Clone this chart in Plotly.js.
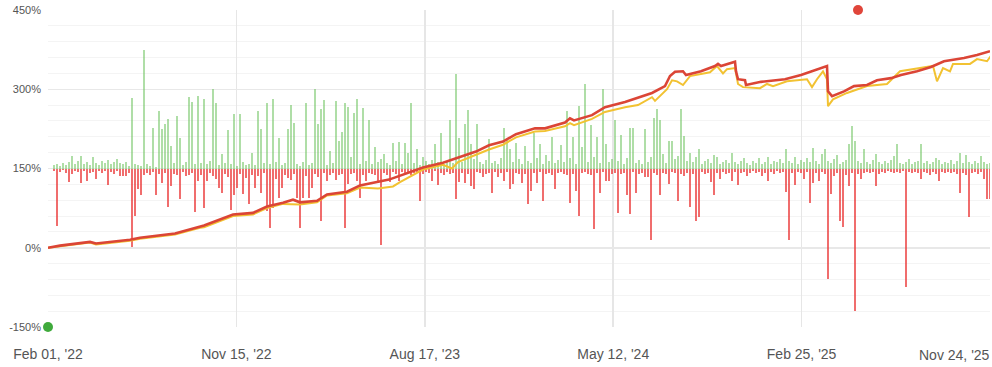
<!DOCTYPE html>
<html>
<head>
<meta charset="utf-8">
<script src="https://cdn.plot.ly/plotly-3.0.1.min.js"></script>
<style>
html,body{margin:0;padding:0;background:#fff;}
#chart{width:992px;height:367px;}
</style>
</head>
<body>
<div id="chart"></div>
<script>
// x axis: trading-day index, labels at equal index spacing
const tickDays = [0, 188.4, 376.8, 565.2, 753.6, 942];
const tickLabels = ["Feb 01, '22", "Nov 15, '22", "Aug 17, '23", "May 12, '24", "Feb 25, '25", "Nov 24, '25"];
const yTicks = [-150, 0, 150, 300, 450];
const yTickLabels = ["-150%", "0%", "150%", "300%", "450%"];

// bar baseline (%), and bar slot spacing (days)
const barBase = 150;
const barStep = 3;

// daily gains (%) per slot
const gains = [
  0,0,6,8,5,10,7,12,23,9,
  14,23,8,12,6,21,10,7,15,11,
  16,9,13,18,10,8,12,5,133,9,
  6,4,224,8,5,76,3,108,74,84,
  93,42,10,99,57,6,12,135,125,8,
  137,11,131,9,14,150,124,6,27,10,
  72,8,103,5,103,12,7,9,30,6,
  108,74,10,124,8,131,13,57,6,11,
  74,120,86,9,5,12,124,7,10,150,
  84,112,129,6,34,11,127,53,70,124,
  116,21,105,131,9,114,14,91,8,40,
  12,18,28,10,7,48,15,51,9,48,
  30,124,11,36,6,21,14,8,17,46,
  12,67,9,15,91,10,179,57,13,84,
  110,46,18,84,12,9,16,55,11,14,
  8,20,76,55,36,13,49,18,9,42,
  15,11,67,20,46,8,25,14,59,10,
  17,44,12,108,19,59,9,118,40,160,
  13,82,21,59,10,150,46,12,18,91,
  14,63,9,20,76,76,11,16,8,74,
  13,22,95,112,91,27,10,53,53,18,
  24,112,61,15,30,12,22,36,9,14,
  18,11,25,21,8,13,16,10,30,12,
  9,15,20,11,7,14,10,19,8,13,
  21,9,15,12,18,10,36,14,11,21,
  8,16,13,20,12,38,15,9,28,36,
  14,10,18,25,9,12,16,46,80,53,
  15,11,36,13,9,17,27,12,8,14,
  10,16,23,46,11,8,13,18,9,12,
  15,46,10,14,8,12,19,16,9,13,
  11,17,8,14,30,10,25,12,9,15,
  11,23,13,8,10
];

// daily losses (%) per slot, as magnitudes
const losses = [
  0,0,4,108,6,3,8,25,10,5,
  7,28,4,23,9,6,19,5,8,4,
  32,6,10,5,15,15,15,8,148,89,
  38,51,12,9,13,6,51,10,28,8,
  72,34,10,13,57,7,15,13,9,82,
  23,12,74,23,9,14,19,36,46,11,
  17,78,51,36,10,49,18,68,12,36,
  15,46,9,80,112,74,20,55,36,13,
  18,21,10,55,112,55,14,55,36,11,
  16,99,9,23,12,8,21,13,10,112,
  30,11,9,23,55,13,23,8,10,12,
  28,144,9,13,25,7,11,23,6,10,
  8,12,9,7,61,10,6,9,23,5,
  32,8,13,6,10,9,57,25,8,28,
  11,34,38,6,9,17,10,8,46,7,
  17,9,23,6,38,30,8,11,27,10,
  67,42,9,27,6,61,10,8,12,38,
  9,7,11,13,65,10,42,89,8,6,
  10,12,114,9,46,7,23,23,10,8,
  84,11,9,51,86,7,46,10,8,17,
  17,135,9,12,51,8,10,30,7,9,
  61,11,15,8,72,10,99,91,7,10,
  9,25,51,8,19,6,10,9,23,7,
  32,8,6,15,9,5,8,6,15,9,
  23,6,10,5,8,7,44,135,9,32,
  6,8,19,7,65,28,9,23,6,10,
  209,48,15,8,99,110,12,34,9,270,
  10,19,8,6,9,7,34,10,6,8,
  5,7,9,6,8,5,224,7,9,6,
  8,19,6,9,13,7,10,23,6,8,
  7,9,6,10,46,8,12,91,9,7,
  10,6,19,57,57
];

// balance line (red)
const balanceDays = [0,12,42,48,82,92,127,152,156,185,205,219,235,245,252,269,279,299,312,341,375,395,408,428,441,455,468,487,497,517,522,526,544,557,577,604,617,622,627,635,638,653,667,670,673,687,688,690,697,698,713,737,753,777,779,780,784,796,806,819,829,843,853,869,883,896,916,929,942];
const balance = [0,4,11,8,15,19,27,40,42,63,66,78,85,91,86,89,101,106,118,129,152,161,169,182,194,201,215,226,226,237,245,241,251,266,276,293,306,325,333,334,327,334,344,348,344,352,334,319,317,308,314,319,327,342,344,296,287,296,306,308,317,321,327,334,342,353,359,365,372];

// equity line (yellow)
const equityDays = [0,12,42,48,82,92,127,152,156,185,205,219,235,252,269,279,299,312,330,345,352,375,395,404,410,428,441,455,468,487,497,517,522,526,544,557,577,590,604,607,617,619,624,629,635,642,662,669,675,679,687,690,695,712,719,725,739,759,764,769,775,779,780,785,799,819,839,852,885,889,895,902,905,922,929,939,944];
const equity = [0,3,10,6,13,17,25,38,39,60,63,75,83,82,86,99,103,114,112,116,124,148,157,150,162,176,186,195,209,220,221,230,236,232,244,257,266,270,285,278,295,300,317,315,308,325,332,344,330,338,340,310,304,302,310,306,315,319,304,319,334,319,268,281,293,306,310,334,344,315,340,334,348,348,357,353,366];

// min / max markers
const markerDays = [0, 810];
const markerValues = [-150, 450];
const markerColors = ["#3faa3c", "#e0453a"];

const slotX = gains.map((_, i) => i * barStep);
const lastIdx = tickLabels.length - 1;

const traces = [
  {
    type: 'bar', x: slotX, y: gains, base: barBase, width: 1.6,
    marker: {color: 'rgba(110,195,95,0.55)', line: {width: 0}},
    hoverinfo: 'skip', showlegend: false
  },
  {
    type: 'bar', x: slotX, y: losses.map(v => -v), base: barBase, width: 1.6,
    marker: {color: 'rgba(235,60,60,0.75)', line: {width: 0}},
    hoverinfo: 'skip', showlegend: false
  },
  {
    type: 'scatter', mode: 'lines', x: equityDays, y: equity,
    line: {color: '#f2c232', width: 2, shape: 'linear'},
    hoverinfo: 'skip', showlegend: false
  },
  {
    type: 'scatter', mode: 'lines', x: balanceDays, y: balance,
    line: {color: '#db4536', width: 2.6, shape: 'linear'},
    hoverinfo: 'skip', showlegend: false
  },
  {
    type: 'scatter', mode: 'markers', x: markerDays, y: markerValues,
    marker: {color: markerColors, size: 10},
    cliponaxis: false, hoverinfo: 'skip', showlegend: false
  }
];

const layout = {
  width: 992, height: 367,
  margin: {l: 48, r: 2, t: 10, b: 40},
  paper_bgcolor: '#ffffff', plot_bgcolor: '#ffffff',
  barmode: 'overlay', bargap: 0,
  font: {family: 'Liberation Sans, Arial, sans-serif', color: '#555'},
  xaxis: {
    range: [0, 942], tickvals: tickDays,
    ticktext: tickLabels.map((t, i) => i === lastIdx ? '' : t),
    showgrid: true, gridcolor: '#e6e6e6', gridwidth: 1.5,
    zeroline: false, showline: false, ticks: '',
    tickfont: {size: 14, color: '#555'}, ticklabelstandoff: 17,
    ticklabeloverflow: 'allow'
  },
  yaxis: {
    range: [-150, 450], tickvals: yTicks, ticktext: yTickLabels,
    showgrid: true, gridcolor: '#e8e8e8', gridwidth: 1.5,
    zeroline: false, showline: false, ticks: '',
    tickfont: {size: 11, color: '#555'}, ticklabelstandoff: 6,
    minor: {tick0: -150, dtick: 30, showgrid: true, gridcolor: '#f4f4f4', gridwidth: 1}
  },
  annotations: [{
    text: tickLabels[lastIdx], xref: 'paper', yref: 'paper',
    x: 1.002, y: 0, xanchor: 'right', yanchor: 'top', yshift: -18,
    showarrow: false, font: {size: 14, color: '#555', family: 'Liberation Sans, Arial, sans-serif'}
  }]
};

Plotly.newPlot('chart', traces, layout, {staticPlot: true, displayModeBar: false});
</script>
</body>
</html>
